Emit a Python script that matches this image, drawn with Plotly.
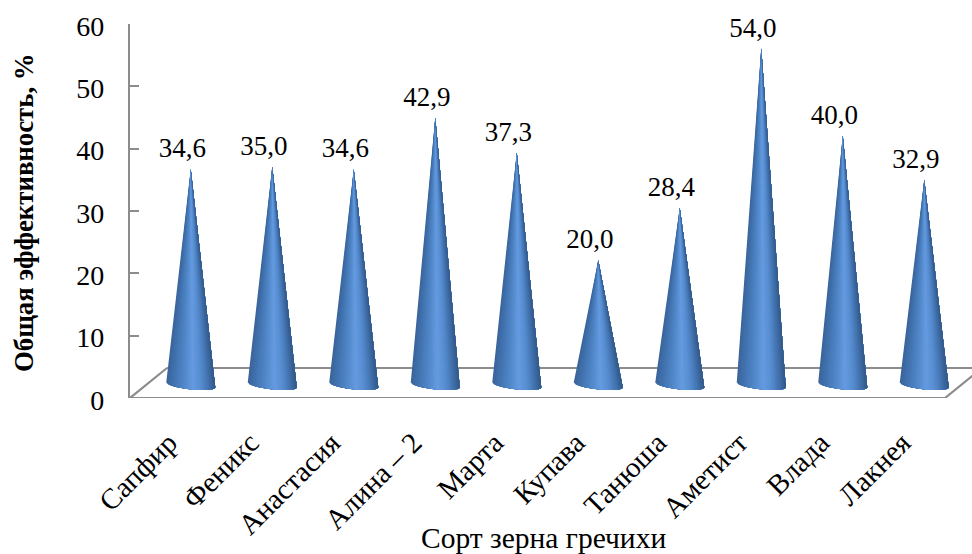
import numpy as np
import plotly.graph_objects as go

# Data
varieties = ["Сапфир", "Феникс", "Анастасия", "Алина – 2", "Марта",
             "Купава", "Танюша", "Аметист", "Влада", "Лакнея"]
efficiency = [34.6, 35.0, 34.6, 42.9, 37.3, 20.0, 28.4, 54.0, 40.0, 32.9]
y_ticks = [0, 10, 20, 30, 40, 50, 60]

# Pseudo-3D layout, in axis units
W, H = 972, 554
LEFT, RIGHT, TOP, BOTTOM = 130, 972, 24, 398
PX_X = 81.5
PX_Y = (BOTTOM - TOP) / 60
X_MIN = -0.5
X_MAX = X_MIN + (RIGHT - LEFT) / PX_X
DEPTH_X, DEPTH_Y = 37 / PX_X, 30 / PX_Y
CONE_DX, CONE_DY = 20 / PX_X, 13.1 / PX_Y
CONE_R = 24.5 / PX_X
AXIS_GREY = "#8c8c8c"

# Shading across a cone, left edge to right edge
stops = [(0.0, (58, 100, 152)), (0.12, (64, 112, 172)), (0.35, (80, 135, 200)),
         (0.55, (102, 155, 225)), (0.72, (84, 138, 205)), (0.9, (62, 108, 165)),
         (1.0, (50, 88, 134))]
N_STRIPS = 36


def shade(t):
    pos = [s[0] for s in stops]
    return "rgb({:.0f},{:.0f},{:.0f})".format(
        *[np.interp(t, pos, [s[1][c] for s in stops]) for c in range(3)])


def base_arc(cx, u_from):
    """Front rim of a cone base, from parameter u_from to the right edge."""
    us = np.linspace(u_from, 1, 24)
    xs = cx + CONE_R * us
    ys = CONE_DY + (0.4 * -us - 0.72 * np.sqrt(np.clip(1 - us ** 2, 0, 1)))
    return xs, ys


fig = go.Figure()

# Floor of the chart box
floor_x = [X_MIN + DEPTH_X, X_MIN, X_MIN + 10, X_MIN + 10 + DEPTH_X, None,
           X_MIN + DEPTH_X, X_MIN + 10 + DEPTH_X]
floor_y = [DEPTH_Y, 0, 0, DEPTH_Y, None, DEPTH_Y, DEPTH_Y]
fig.add_trace(go.Scatter(x=floor_x, y=floor_y, mode="lines",
                         line=dict(color=AXIS_GREY, width=2.2),
                         hoverinfo="skip", showlegend=False))

# Cones, painted strip over strip so that no seams appear between colours
for k in range(N_STRIPS):
    t = k / N_STRIPS
    u = -1 + 2 * t
    px, py = [], []
    for i, v in enumerate(efficiency):
        cx = i + CONE_DX
        xs, ys = base_arc(cx, u)
        px += [cx, *xs, cx, None]
        py += [v + CONE_DY, *ys, v + CONE_DY, None]
    fig.add_trace(go.Scatter(x=px, y=py, mode="lines", fill="toself",
                             fillcolor=shade(t + 0.5 / N_STRIPS),
                             line=dict(width=0), hoverinfo="skip",
                             showlegend=False))

# Value labels above the tips
fig.add_trace(go.Scatter(
    x=[i + CONE_DX - 8.5 / PX_X for i in range(len(efficiency))],
    y=[v + CONE_DY + 18.5 / PX_Y for v in efficiency],
    mode="text",
    text=[f"{v:.1f}".replace(".", ",") for v in efficiency],
    textposition="middle center",
    textfont=dict(family="Liberation Serif", size=27, color="black"),
    cliponaxis=False, hoverinfo="skip", showlegend=False))

fig.update_layout(
    width=W, height=H,
    margin=dict(l=LEFT, r=W - RIGHT, t=TOP, b=H - BOTTOM, pad=0),
    paper_bgcolor="white", plot_bgcolor="white",
    font=dict(family="Liberation Serif", color="black"),
    showlegend=False,
    xaxis=dict(range=[X_MIN, X_MAX], tickmode="array",
               tickvals=list(range(len(varieties))), ticktext=varieties,
               tickangle=-45, tickfont=dict(size=29), ticks="",
               showgrid=False, zeroline=False, showline=False,
               ticklabelstandoff=21, ticklabelshift=-2),
    yaxis=dict(range=[0, 60], tickmode="array", tickvals=y_ticks,
               ticks="inside", ticklen=9, tickwidth=2, tickcolor=AXIS_GREY,
               tickfont=dict(size=28), showgrid=False, zeroline=False,
               showline=True, linecolor=AXIS_GREY, linewidth=2.2,
               ticklabelstandoff=18, ticklabelshift=2),
    annotations=[
        dict(text="Сорт зерна гречихи", xref="paper", yref="paper",
             x=(543 - LEFT) / (RIGHT - LEFT), y=-(537.5 - BOTTOM) / (BOTTOM - TOP),
             xanchor="center", yanchor="middle", showarrow=False,
             font=dict(size=29.5)),
        dict(text="<b>Общая эффективность, %</b>", xref="paper", yref="paper",
             x=(24 - LEFT) / (RIGHT - LEFT), y=(BOTTOM - 213) / (BOTTOM - TOP),
             xanchor="center", yanchor="middle", textangle=-90, showarrow=False,
             font=dict(size=26.8)),
    ],
)

fig.write_html("out.html", config=dict(displayModeBar=False))
